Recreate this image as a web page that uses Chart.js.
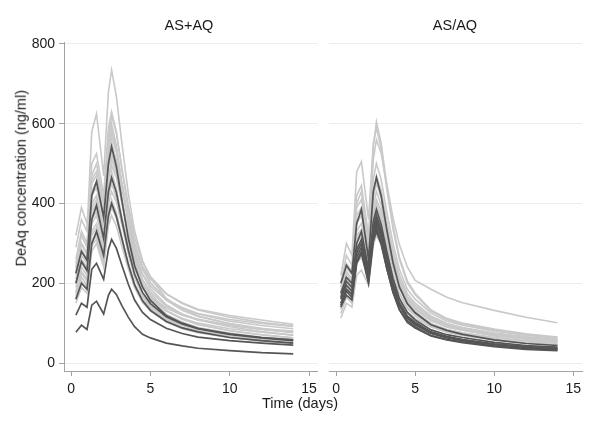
<!DOCTYPE html>
<html>
<head>
<meta charset="utf-8">
<script src="https://cdn.jsdelivr.net/npm/chart.js@4.4.0/dist/chart.umd.min.js"></script>
<style>
  body { margin: 0; background: #fff; }
  #wrap { position: relative; width: 600px; height: 426px; font-family: "Liberation Sans", Arial, sans-serif; color: #1a1a1a; }
  canvas { position: absolute; top: 0; }
  .lbl { position: absolute; font-size: 14.5px; line-height: 14.5px; white-space: nowrap; }
</style>
</head>
<body>
<div id="wrap">
  <canvas id="leftChart" width="322" height="426" style="left:0"></canvas>
  <canvas id="rightChart" width="278" height="426" style="left:322px"></canvas>
  <div class="lbl" style="left:139px;top:18px;width:100px;text-align:center">AS+AQ</div>
  <div class="lbl" style="left:405px;top:18px;width:100px;text-align:center">AS/AQ</div>
  <div class="lbl" style="left:200px;top:396px;width:200px;text-align:center">Time (days)</div>
  <div class="lbl" style="left:-129px;top:171px;width:300px;text-align:center;transform:rotate(-90deg)">DeAq concentration (ng/ml)</div>
</div>
<script>
// sampling times (days)
const days = [0.3, 0.65, 1.0, 1.3, 1.6, 2.05, 2.35, 2.55, 2.85, 3.2, 3.6, 4.0, 4.5, 5, 6, 7, 8, 10, 12, 14];

const xTicks = [0, 5, 10, 15];
const yTicks = [0, 200, 400, 600, 800];

// AS+AQ panel
const asaqDark = [
  [225, 280, 258, 420, 455, 365, 500, 542, 493, 407, 314, 244, 190, 157, 119, 100, 87, 73, 64, 58],
  [200, 255, 232, 360, 395, 312, 430, 465, 428, 358, 284, 223, 177, 149, 116, 98, 86, 72, 63, 56],
  [160, 200, 185, 300, 330, 270, 370, 400, 368, 312, 248, 196, 156, 132, 104, 88, 78, 64, 56, 50],
  [120, 150, 140, 235, 250, 210, 285, 310, 288, 245, 198, 158, 127, 109, 87, 74, 65, 56, 50, 45],
  [77, 95, 84, 145, 155, 123, 170, 185, 172, 144, 115, 91, 72, 63, 50, 43, 37, 31, 26, 23]
];
const asaqLight = [
  [290, 360, 330, 580, 625, 470, 680, 735, 669, 551, 426, 331, 257, 213, 162, 136, 118, 99, 87, 77],
  [250, 320, 290, 500, 525, 420, 590, 630, 580, 485, 384, 302, 239, 202, 158, 132, 117, 98, 85, 76],
  [320, 390, 350, 450, 470, 400, 570, 620, 577, 490, 397, 316, 254, 217, 174, 149, 133, 115, 102, 93],
  [240, 300, 275, 470, 500, 400, 560, 600, 546, 450, 348, 270, 210, 174, 132, 111, 96, 81, 71, 63],
  [260, 330, 300, 430, 455, 380, 540, 585, 538, 450, 357, 281, 222, 187, 146, 123, 108, 91, 79, 70],
  [230, 285, 260, 420, 440, 360, 525, 570, 530, 450, 365, 291, 234, 200, 160, 137, 123, 105, 94, 86],
  [210, 270, 250, 460, 480, 370, 515, 555, 505, 416, 322, 250, 194, 161, 122, 103, 89, 75, 65, 58],
  [220, 280, 255, 400, 420, 340, 500, 540, 508, 437, 362, 297, 243, 211, 173, 151, 135, 119, 108, 97],
  [200, 260, 240, 380, 400, 330, 490, 525, 483, 404, 320, 252, 200, 168, 131, 110, 97, 81, 71, 63],
  [240, 300, 270, 390, 410, 335, 470, 510, 474, 403, 326, 260, 209, 179, 143, 122, 110, 94, 84, 77],
  [190, 240, 220, 370, 390, 310, 460, 495, 465, 401, 332, 272, 223, 193, 158, 139, 124, 109, 99, 92],
  [200, 250, 230, 350, 370, 300, 445, 480, 437, 360, 278, 216, 168, 139, 106, 89, 77, 65, 57, 50],
  [180, 230, 210, 360, 380, 305, 430, 465, 432, 367, 298, 237, 191, 163, 130, 112, 100, 86, 77, 70],
  [175, 225, 205, 330, 350, 285, 415, 450, 414, 347, 275, 216, 171, 144, 113, 95, 83, 70, 61, 54],
  [170, 215, 195, 320, 340, 275, 400, 430, 404, 348, 288, 237, 194, 168, 138, 120, 108, 95, 86, 80],
  [160, 205, 190, 300, 320, 260, 380, 410, 377, 316, 250, 197, 156, 131, 103, 86, 76, 64, 55, 49],
  [165, 200, 185, 295, 310, 250, 360, 390, 363, 308, 250, 199, 160, 137, 109, 94, 84, 72, 64, 59],
  [150, 190, 175, 280, 300, 240, 345, 370, 344, 292, 237, 189, 152, 130, 104, 89, 80, 68, 61, 56]
];

// AS/AQ panel
const asSlashAqDark = [
  [200, 245, 225, 350, 385, 260, 430, 465, 419, 335, 251, 191, 149, 126, 96, 82, 72, 58, 49, 44],
  [175, 215, 200, 300, 330, 235, 355, 385, 347, 281, 212, 162, 127, 108, 83, 71, 64, 52, 44, 40],
  [165, 205, 190, 285, 310, 225, 340, 370, 333, 266, 200, 152, 118, 102, 78, 67, 59, 48, 41, 37],
  [160, 195, 180, 275, 300, 215, 330, 360, 324, 259, 194, 148, 115, 99, 76, 65, 58, 47, 40, 36],
  [150, 185, 172, 265, 290, 210, 322, 350, 315, 252, 189, 144, 112, 96, 74, 63, 56, 46, 39, 35],
  [145, 180, 165, 255, 280, 205, 312, 340, 303, 238, 177, 133, 102, 88, 68, 58, 51, 41, 34, 31],
  [140, 170, 158, 250, 275, 200, 305, 330, 297, 238, 178, 135, 106, 91, 69, 59, 53, 43, 36, 33]
];
const asSlashAqLight = [
  [170, 230, 210, 400, 430, 300, 540, 605, 551, 448, 345, 266, 206, 175, 133, 112, 100, 85, 73, 65],
  [220, 300, 270, 480, 505, 360, 550, 590, 537, 437, 336, 260, 201, 171, 130, 109, 97, 83, 71, 64],
  [190, 250, 230, 390, 410, 310, 510, 560, 526, 448, 364, 297, 241, 207, 185, 165, 151, 132, 115, 101],
  [200, 270, 245, 420, 445, 320, 460, 500, 460, 380, 300, 235, 185, 160, 125, 105, 95, 80, 70, 62],
  [180, 240, 220, 370, 390, 290, 430, 470, 432, 357, 282, 221, 174, 150, 118, 99, 89, 75, 66, 59],
  [165, 215, 200, 350, 370, 280, 415, 450, 414, 342, 270, 212, 167, 144, 113, 95, 86, 72, 63, 56],
  [160, 210, 195, 330, 350, 270, 395, 430, 396, 327, 258, 202, 159, 138, 108, 90, 82, 69, 60, 54],
  [175, 225, 205, 320, 335, 260, 380, 410, 381, 320, 258, 205, 164, 144, 115, 98, 88, 74, 66, 59],
  [150, 200, 185, 310, 330, 250, 370, 400, 368, 304, 240, 188, 148, 128, 100, 84, 76, 64, 56, 50],
  [145, 190, 175, 300, 320, 245, 360, 390, 363, 304, 246, 195, 156, 137, 109, 94, 84, 70, 62, 57],
  [140, 185, 172, 290, 305, 240, 350, 380, 353, 296, 239, 190, 152, 133, 106, 91, 82, 68, 61, 55],
  [135, 180, 165, 280, 300, 230, 340, 370, 340, 281, 222, 174, 137, 118, 93, 78, 70, 59, 52, 46],
  [125, 165, 150, 250, 265, 215, 320, 350, 326, 273, 221, 175, 140, 123, 98, 84, 75, 63, 56, 51],
  [113, 150, 140, 220, 233, 195, 295, 320, 298, 250, 202, 160, 128, 112, 90, 77, 69, 58, 51, 46]
];

const darkGrey = '#555555';
const lightGrey = '#c9c9c9';
const axisGrey = '#a3a3a3';
const gridColor = '#e7eff0';
const fontFamily = '"Liberation Sans", Arial, sans-serif';

function toPoints(row) {
  return days.map((t, i) => ({ x: t, y: row[i] }));
}

// dark lines first so they are drawn on top
function buildSets(dark, light) {
  const darkSets = dark.map(row => ({
    data: toPoints(row), borderColor: darkGrey, borderWidth: 1.7
  }));
  const lightSets = light.map(row => ({
    data: toPoints(row), borderColor: lightGrey, borderWidth: 1.6
  }));
  return darkSets.concat(lightSets);
}

function buildOptions(showY, pad) {
  return {
    responsive: false,
    animation: false,
    events: [],
    layout: { padding: pad },
    elements: { point: { radius: 0 }, line: { tension: 0 } },
    plugins: { legend: { display: false }, tooltip: { enabled: false } },
    scales: {
      x: {
        type: 'linear',
        min: -0.45,
        max: 15.55,
        afterBuildTicks: s => { s.ticks = xTicks.map(v => ({ value: v })); },
        afterFit: s => { s.height = 55; },
        grid: { drawOnChartArea: false, drawTicks: true, tickLength: 5, tickColor: axisGrey },
        border: { color: axisGrey, width: 1 },
        ticks: { color: '#1a1a1a', font: { family: fontFamily, size: 14 }, padding: 5, maxRotation: 0, autoSkip: false }
      },
      y: {
        min: -20,
        max: 805,
        afterBuildTicks: s => { s.ticks = yTicks.map(v => ({ value: v })); },
        afterFit: s => { s.width = showY ? 64 : 0; },
        grid: { color: gridColor, lineWidth: 1, drawTicks: showY, tickLength: 5, tickColor: axisGrey },
        border: { display: showY, color: axisGrey, width: 1 },
        ticks: { display: showY, color: '#1a1a1a', font: { family: fontFamily, size: 14 }, padding: 4 }
      }
    }
  };
}

new Chart(document.getElementById('leftChart'), {
  type: 'line',
  data: { datasets: buildSets(asaqDark, asaqLight) },
  options: buildOptions(true, { top: 42, right: 4, left: 0, bottom: 0 })
});

new Chart(document.getElementById('rightChart'), {
  type: 'line',
  data: { datasets: buildSets(asSlashAqDark, asSlashAqLight) },
  options: buildOptions(false, { top: 42, right: 18, left: 7, bottom: 0 })
});
</script>
</body>
</html>
